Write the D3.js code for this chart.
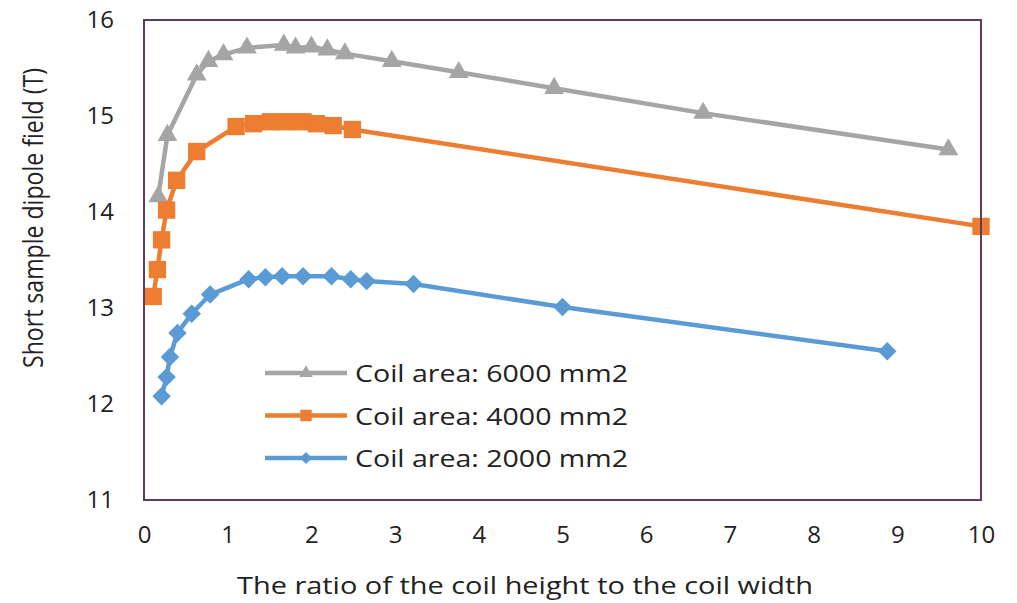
<!DOCTYPE html>
<html>
<head>
<meta charset="utf-8">
<script src="https://cdn.jsdelivr.net/npm/d3@7"></script>
<style>
body { margin: 0; background: #fff; }
text { font-family: "Open Sans", "Noto Sans", sans-serif; fill: #222; }
</style>
</head>
<body>
<div id="container"></div>
<script>
// ratio (height/width) and short sample field (T) for each coil area
var x6000 = [0.17, 0.28, 0.63, 0.77, 0.95, 1.23, 1.67, 1.81, 2.00, 2.19, 2.40, 2.96, 3.76, 4.90, 6.68, 9.61];
var y6000 = [14.16, 14.80, 15.43, 15.57, 15.64, 15.71, 15.74, 15.71, 15.72, 15.69, 15.65, 15.57, 15.455, 15.29, 15.03, 14.65];
var x4000 = [0.11, 0.16, 0.21, 0.27, 0.39, 0.63, 1.10, 1.31, 1.51, 1.70, 1.90, 2.06, 2.26, 2.49, 10.0];
var y4000 = [13.12, 13.40, 13.71, 14.02, 14.33, 14.63, 14.89, 14.92, 14.94, 14.94, 14.94, 14.92, 14.90, 14.86, 13.85];
var x2000 = [0.21, 0.27, 0.31, 0.40, 0.57, 0.79, 1.25, 1.45, 1.65, 1.90, 2.24, 2.47, 2.66, 3.22, 5.00, 8.88];
var y2000 = [12.08, 12.28, 12.49, 12.74, 12.94, 13.14, 13.30, 13.32, 13.33, 13.33, 13.33, 13.30, 13.28, 13.25, 13.01, 12.55];
var seriesNames = ["Coil area: 6000 mm2", "Coil area: 4000 mm2", "Coil area: 2000 mm2"];
var xTicks = [0, 1, 2, 3, 4, 5, 6, 7, 8, 9, 10];
var yTicks = [11, 12, 13, 14, 15, 16];

var width = 1017, height = 603;
var margin = {top: 20, right: 36, bottom: 103, left: 144};

var series = [
    {name: seriesNames[0], xs: x6000, ys: y6000, color: "#A5A5A5", shape: "triangle"},
    {name: seriesNames[1], xs: x4000, ys: y4000, color: "#ED7D31", shape: "square"},
    {name: seriesNames[2], xs: x2000, ys: y2000, color: "#5B9BD5", shape: "diamond"}
];

var x = d3.scaleLinear().domain([0, 10]).range([margin.left, width - margin.right]);
var y = d3.scaleLinear().domain([11, 16]).range([height - margin.bottom, margin.top]);

var svg = d3.select('#container').append('svg').attr('width', width).attr('height', height);

function marker(shape, big) {
    if (shape == "triangle") return d3.symbol().type(d3.symbolTriangle).size(big ? 170 : 80)();
    if (shape == "square") return d3.symbol().type(d3.symbolSquare).size(big ? 300 : 130)();
    return d3.symbol().type(d3.symbolSquare).size(big ? 170 : 75)();
}

// axes (labels only, no tick marks)
var xAxis = d3.axisBottom(x).tickValues(xTicks).tickSize(0).tickPadding(26).tickFormat(d3.format('d'));
var yAxis = d3.axisLeft(y).tickValues(yTicks).tickSize(0).tickPadding(30).tickFormat(d3.format('d'));
var gx = svg.append('g').attr('transform', 'translate(0,' + (height - margin.bottom) + ')').call(xAxis);
var gy = svg.append('g').attr('transform', 'translate(' + margin.left + ',0)').call(yAxis);
[gx, gy].forEach(function (g) {
    g.select('.domain').remove();
    g.selectAll('text').attr('font-size', 24).attr('font-family', '"Open Sans", sans-serif').attr('fill', '#222');
});

svg.append('text').attr('x', 525).attr('y', 594)
    .attr('text-anchor', 'middle').attr('font-size', 24)
    .attr('textLength', 576).attr('lengthAdjust', 'spacingAndGlyphs')
    .text('The ratio of the coil height to the coil width');
svg.append('text').attr('transform', 'translate(33,218) rotate(-90) scale(1,1.25)')
    .attr('text-anchor', 'middle').attr('dy', '0.35em').attr('font-size', 22)
    .attr('textLength', 300).attr('lengthAdjust', 'spacingAndGlyphs')
    .text('Short sample dipole field (T)');

var line = d3.line().x(function (d) { return x(d[0]); }).y(function (d) { return y(d[1]); });

series.forEach(function (s) {
    var pts = s.xs.map(function (v, i) { return [v, s.ys[i]]; });
    svg.append('path').datum(pts).attr('d', line).attr('fill', 'none')
        .attr('stroke', s.color).attr('stroke-width', 4.5).attr('stroke-linejoin', 'round');
    svg.selectAll('.m').data(pts).enter().append('path')
        .attr('d', marker(s.shape, true))
        .attr('transform', function (d) {
            return 'translate(' + x(d[0]) + ',' + y(d[1]) + ')' + (s.shape == "diamond" ? ' rotate(45)' : '');
        })
        .attr('fill', s.color);
});

// frame
svg.append('rect').attr('x', margin.left).attr('y', margin.top)
    .attr('width', width - margin.right - margin.left).attr('height', height - margin.bottom - margin.top)
    .attr('fill', 'none').attr('stroke', '#5E3A5E').attr('stroke-width', 2);

// legend
var legend = svg.append('g');
series.forEach(function (s, i) {
    var ly = 373 + i * 42.5;
    legend.append('line').attr('x1', 265).attr('x2', 347).attr('y1', ly).attr('y2', ly)
        .attr('stroke', s.color).attr('stroke-width', 4.5);
    legend.append('path').attr('d', marker(s.shape, false))
        .attr('transform', 'translate(306,' + ly + ')' + (s.shape == "diamond" ? ' rotate(45)' : ''))
        .attr('fill', s.color);
    legend.append('text').attr('x', 355).attr('y', ly + 9).attr('font-size', 24)
        .attr('textLength', 273).attr('lengthAdjust', 'spacingAndGlyphs').text(s.name);
});
</script>
</body>
</html>
